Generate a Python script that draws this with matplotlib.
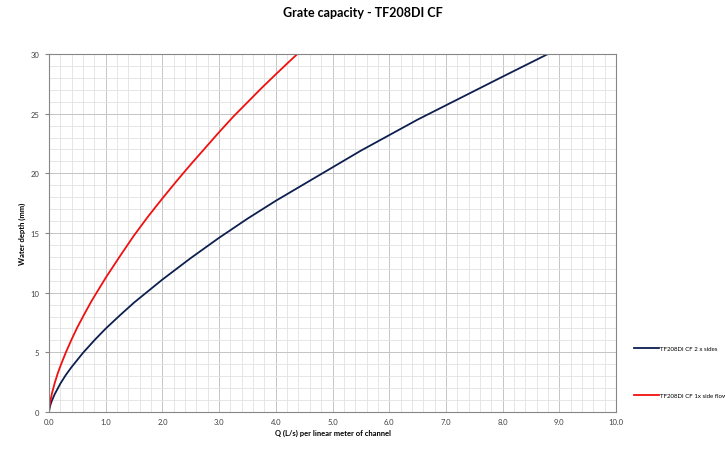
import numpy as np
import matplotlib.pyplot as plt
from matplotlib.ticker import MultipleLocator, FormatStrFormatter

plt.rcParams['font.family'] = ['Lato', 'DejaVu Sans']

# Valores
q_two_sides = [0, 0.01, 0.025, 0.05, 0.1, 0.2, 0.3, 0.4, 0.6, 0.8, 1.0, 1.25, 1.5, 2.0, 2.5,
               3.0, 3.5, 4.0, 4.5, 5.0, 5.5, 6.0, 6.5, 7.0, 7.5, 8.0, 8.4, 8.8]
h_two_sides = [0, 0.32, 0.6, 0.94, 1.49, 2.38, 3.13, 3.78, 4.96, 6.01, 6.99, 8.1, 9.17, 11.1, 12.9,
               14.6, 16.2, 17.7, 19.1, 20.5, 21.9, 23.2, 24.5, 25.7, 26.9, 28.1, 29.05, 30.0]

q_one_side = [0, 0.005, 0.0125, 0.025, 0.05, 0.1, 0.15, 0.2, 0.3, 0.4, 0.5, 0.625, 0.75, 1.0, 1.25,
              1.5, 1.75, 2.0, 2.25, 2.5, 2.75, 3.0, 3.25, 3.5, 3.75, 4.0, 4.2, 4.38]
h_one_side = [0, 0.33, 0.61, 0.96, 1.52, 2.42, 3.18, 3.84, 5.03, 6.1, 7.1, 8.22, 9.3, 11.25, 13.05,
              14.8, 16.4, 17.9, 19.35, 20.75, 22.1, 23.45, 24.75, 25.95, 27.15, 28.3, 29.2, 30.0]

labels = ['TF208DI CF 2 x sides', 'TF208DI CF 1x side flow']

fig = plt.figure(figsize=(7.25, 4.64), dpi=100)
ax = fig.add_axes([0.0676, 0.1099, 0.7821, 0.7716])

l1, = ax.plot(q_two_sides, h_two_sides, color='#0d1f4f', lw=1.3)
l2, = ax.plot(q_one_side, h_one_side, color='#f01010', lw=1.3)

ax.set_xlim(0, 10)
ax.set_ylim(0, 30)
ax.xaxis.set_major_locator(MultipleLocator(1))
ax.xaxis.set_minor_locator(MultipleLocator(0.2))
ax.yaxis.set_major_locator(MultipleLocator(5))
ax.yaxis.set_minor_locator(MultipleLocator(1))
ax.xaxis.set_major_formatter(FormatStrFormatter('%.1f'))
ax.grid(which='major', color='#c4c4c4', lw=0.7)
ax.grid(which='minor', color='#e2e2e2', lw=0.6)
ax.set_axisbelow(True)
ax.tick_params(which='both', labelsize=5.5, length=0, pad=4, colors='#404040')
ax.tick_params(axis='y', which='major', length=3, color='#868686')
for s in ax.spines.values():
    s.set_color('#868686')
    s.set_linewidth(0.8)

ax.set_xlabel('Q (L/s) per linear meter of channel', fontsize=5.5, fontweight='bold', labelpad=3)
ax.set_ylabel('Water depth (mm)', fontsize=5.5, fontweight='bold', labelpad=3)
fig.suptitle('Grate capacity - TF208DI CF', fontsize=9, fontweight='bold', y=0.985)

fig.legend([l1, l2], labels, loc='upper left', bbox_to_anchor=(0.868, 0.263),
           frameon=False, prop={'family': ['Lato'], 'size': 4.4},
           labelspacing=6.8, handlelength=4.0, handletextpad=0.15, borderpad=0.3)

fig.savefig('out.png', dpi=100)
